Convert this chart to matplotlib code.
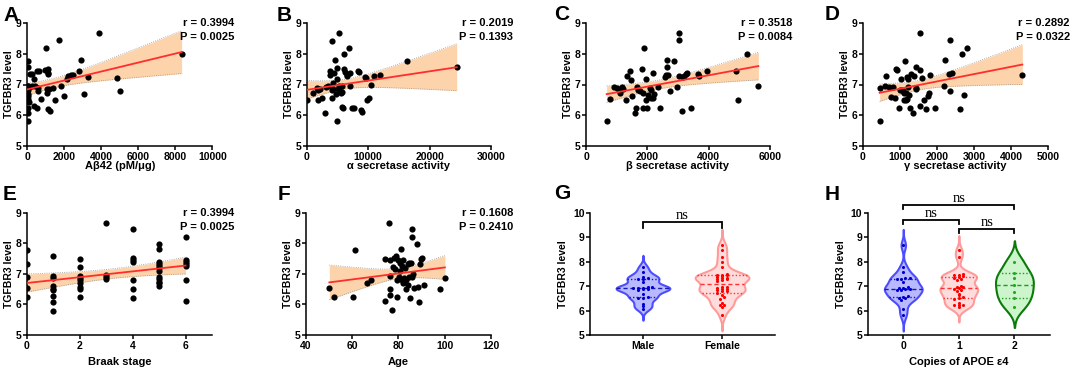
import numpy as np
import matplotlib
matplotlib.use('Agg')
import matplotlib.pyplot as plt
from matplotlib.transforms import offset_copy

plt.rcParams['font.family'] = ['Liberation Sans', 'DejaVu Sans']
plt.rcParams['font.weight'] = 'bold'
plt.rcParams['axes.labelweight'] = 'bold'

# ---------------- data ----------------
A_x = [18, 18, 144, 234, 54, 234, 414, 54, 54, 54, 90, 18, 54, 18, 378, 360, 505, 541, 649, 577,
       595, 739, 1009, 973, 1135, 1099, 1081, 1045, 1099, 1225, 1135, 1189, 1405, 1495, 1730, 1820,
       1982, 2126, 2216, 2360, 2486, 2811, 2901, 3081, 3261, 3856, 4865, 5009, 8342, 30, 40, 110]
A_y = [7.78, 7.58, 7.34, 7.34, 6.95, 6.95, 6.95, 6.82, 6.68, 6.53, 6.44, 6.22, 6.06, 5.81, 7.18, 6.30,
       6.25, 7.44, 7.45, 6.89, 6.80, 6.54, 8.18, 7.47, 7.50, 7.39, 6.84, 6.73, 6.21, 6.13, 7.34, 6.84,
       6.87, 6.49, 8.44, 6.96, 6.62, 7.17, 7.28, 7.30, 7.30, 7.44, 7.80, 6.69, 7.26, 8.66, 7.22, 6.79,
       7.99, 6.62, 6.95, 6.92]

B_x = [0, 1085, 1628, 1899, 1899, 2170, 2550, 2984, 3147, 3527, 3798, 3798, 4069, 4069, 4178, 4232,
       4341, 4504, 4612, 4721, 4883, 4883, 4938, 5046, 5263, 5263, 5426, 5589, 5697, 5806, 5806, 5860,
       6077, 6077, 6240, 6511, 6620, 6891, 7054, 7054, 7434, 7759, 8410, 8519, 8844, 8953, 9495, 9604,
       9766, 10146, 10472, 11015, 11937, 16278, 24417]
B_y = [6.49, 6.71, 6.87, 6.82, 6.51, 6.84, 6.57, 6.08, 6.91, 6.95, 7.31, 7.45, 6.82, 6.55, 8.43, 7.04,
       6.84, 7.39, 7.80, 6.69, 7.53, 5.81, 7.17, 6.84, 8.67, 6.95, 6.80, 6.71, 6.95, 6.77, 6.28, 6.22,
       7.99, 7.50, 7.42, 7.28, 7.31, 8.18, 6.95, 7.37, 6.24, 6.22, 7.44, 7.41, 6.17, 6.11, 7.23, 7.20,
       6.49, 6.55, 6.98, 7.28, 7.31, 7.77, 7.57]

C_x = [674, 783, 913, 1022, 1087, 1109, 1163, 1217, 1304, 1348, 1435, 1457, 1489, 1598, 1630, 1674,
       1707, 1761, 1815, 1848, 1870, 1902, 1946, 1957, 1978, 2033, 2087, 2109, 2120, 2174, 2196, 2217,
       2359, 2413, 2576, 2609, 2652, 2652, 2685, 2739, 2880, 2957, 3033, 3033, 3043, 3152, 3196, 3261,
       3304, 3663, 3696, 3935, 4880, 4967, 5261, 5620, 3120, 3424]
C_y = [5.81, 6.53, 6.93, 6.87, 6.82, 6.71, 6.91, 6.84, 6.51, 7.28, 7.45, 7.15, 6.62, 6.08, 6.25, 6.91,
       6.82, 6.79, 7.51, 6.71, 6.22, 8.18, 6.49, 7.18, 6.22, 6.66, 6.87, 6.57, 6.82, 6.57, 7.39, 6.69,
       6.91, 6.22, 7.26, 7.31, 7.56, 7.80, 7.31, 6.80, 7.77, 6.93, 8.67, 8.46, 7.28, 7.23, 7.28, 7.34,
       7.39, 7.34, 7.28, 7.44, 7.45, 6.49, 7.99, 6.96, 6.13, 6.22]

D_x = [450, 450, 586, 631, 703, 766, 811, 856, 901, 919, 973, 991, 1018, 1063, 1081, 1099, 1108, 1126,
       1153, 1171, 1189, 1189, 1216, 1216, 1243, 1261, 1306, 1351, 1369, 1423, 1441, 1441, 1532, 1550,
       1532, 1595, 1640, 1694, 1757, 1775, 1802, 1937, 2180, 2207, 2324, 2342, 2342, 2405, 2613, 2685,
       2721, 2820, 4306]
D_y = [6.87, 5.81, 6.95, 7.28, 6.93, 6.58, 6.91, 6.55, 7.51, 7.47, 6.22, 6.82, 7.17, 6.82, 6.80, 6.49,
       6.71, 7.78, 6.73, 6.49, 7.23, 6.54, 7.18, 6.91, 6.66, 6.24, 7.34, 6.08, 7.28, 6.87, 7.57, 6.84,
       6.30, 7.47, 8.67, 7.22, 6.51, 6.19, 6.62, 6.71, 7.31, 6.22, 6.96, 7.80, 7.34, 8.46, 6.79, 7.39,
       6.19, 7.99, 6.65, 8.18, 7.31]

E_x = [0] * 5 + [1] * 9 + [2] * 9 + [3] * 4 + [4] * 7 + [5] * 12 + [6] * 7
E_y = [7.78, 7.32, 6.91, 6.55, 6.23,
       7.58, 6.93, 6.85, 6.60, 6.52, 6.47, 6.29, 6.07, 5.80,
       7.47, 7.21, 6.94, 6.87, 6.80, 6.69, 6.58, 6.49, 6.23,
       8.67, 6.96, 6.89, 6.82,
       8.46, 7.51, 7.46, 7.40, 6.80, 6.49, 6.20,
       7.98, 7.80, 7.40, 7.32, 7.26, 7.18, 7.10, 6.91, 6.82, 6.74, 6.69, 6.60,
       8.19, 7.45, 7.40, 7.32, 7.26, 6.80, 6.12]

F_x = [50.2, 52.4, 60.3, 61.3, 66.3, 68.2, 74.2, 74.2, 76.1, 76.4, 76.4, 76.4, 76.4, 77.1, 77.8, 78.3,
       78.6, 79.0, 79.3, 79.3, 80.0, 80.3, 80.7, 80.7, 81.2, 81.4, 81.7, 81.9, 82.2, 82.4, 82.9, 83.2,
       83.3, 84.0, 84.3, 84.6, 84.7, 85.0, 85.5, 85.8, 86.0, 86.0, 86.2, 86.9, 87.9, 88.3, 88.9, 89.4,
       89.8, 90.1, 91.2, 98.0, 100.1]
F_y = [6.55, 6.23, 6.23, 7.78, 6.71, 6.80, 7.47, 6.12, 8.67, 7.45, 6.93, 6.49, 6.31, 5.82, 7.21, 7.51,
       7.15, 7.58, 6.23, 6.80, 7.45, 6.89, 7.10, 7.34, 7.81, 6.80, 7.26, 7.45, 6.71, 6.85, 7.18, 6.49,
       6.80, 6.63, 7.32, 6.91, 7.34, 6.22, 7.34, 6.89, 8.46, 8.19, 6.99, 6.53, 7.98, 6.56, 6.07, 7.32,
       7.47, 7.53, 6.63, 6.49, 6.85]

stats_r = ['0.3994', '0.2019', '0.3518', '0.2892', '0.3994', '0.1608']
stats_p = ['0.0025', '0.1393', '0.0084', '0.0322', '0.0025', '0.2410']

G_labels = ['Male', 'Female']
G_male = [7.78, 7.58, 7.39, 7.34, 7.30, 7.30, 7.18, 6.96, 6.95, 6.93, 6.93, 6.91, 6.89, 6.87, 6.82,
          6.66, 6.54, 6.53, 6.53, 6.28, 6.17, 6.08]
G_female = [8.68, 8.47, 8.20, 7.99, 7.77, 7.50, 7.47, 7.45, 7.44, 7.40, 7.38, 7.34, 7.32, 7.30, 7.28,
            7.26, 7.22, 6.98, 6.95, 6.93, 6.89, 6.87, 6.84, 6.80, 6.79, 6.73, 6.62, 6.55, 6.49, 6.30,
            6.24, 6.21, 6.13, 5.81]

H_labels = ['0', '1', '2']
H_0 = [8.67, 7.78, 7.58, 7.34, 7.32, 7.30, 7.28, 7.18, 6.96, 6.93, 6.91, 6.89, 6.87, 6.85, 6.82, 6.60,
       6.55, 6.53, 6.50, 6.44, 6.08, 5.81]
H_1 = [8.46, 8.19, 7.50, 7.47, 7.45, 7.40, 7.38, 7.34, 7.30, 7.26, 7.00, 6.96, 6.95, 6.93, 6.89, 6.84,
       6.80, 6.69, 6.62, 6.55, 6.53, 6.49, 6.30, 6.24, 6.22, 6.21, 6.13]
H_2 = [8.00, 7.52, 7.33, 7.04, 6.77, 6.50, 6.16]

# ---------------- figure ----------------
W, H = 1072, 370
fig = plt.figure(figsize=(W / 100, H / 100), dpi=100)


def ax_px(left, right, top, bottom):
    return fig.add_axes([left / W, 1 - bottom / H, (right - left) / W, (bottom - top) / H])


def style(ax):
    for s in ['top', 'right']:
        ax.spines[s].set_visible(False)
    for s in ['left', 'bottom']:
        ax.spines[s].set_linewidth(1.1)
    ax.tick_params(direction='out', length=3, width=1.1, labelsize=7.5, pad=1)


TCRIT = 2.006


def scatter_panel(ax, x, y, xlim, xticks, xlabel, r, p, xlab_off):
    x = np.asarray(x, float)
    y = np.asarray(y, float)
    n = len(x)
    slope, inter = np.polyfit(x, y, 1)
    xs = np.linspace(x.min(), x.max(), 200)
    fit = inter + slope * xs
    resid = y - (inter + slope * x)
    s = np.sqrt((resid ** 2).sum() / (n - 2))
    sxx = ((x - x.mean()) ** 2).sum()
    se = s * np.sqrt(1 / n + (xs - x.mean()) ** 2 / sxx)
    lo, hi = fit - TCRIT * se, fit + TCRIT * se
    ax.fill_between(xs, lo, hi, color='#fcd3aa', lw=0, zorder=1)
    ax.plot(xs, lo, color='#999999', lw=0.6, ls=':', zorder=2)
    ax.plot(xs, hi, color='#999999', lw=0.6, ls=':', zorder=2)
    ax.scatter(x, y, s=20, color='black', zorder=3, linewidths=0)
    ax.plot(xs, fit, color='#ff2d2d', lw=1.3, zorder=4)
    ax.set_xlim(*xlim)
    ax.set_ylim(5, 9)
    ax.set_xticks(xticks)
    ax.set_yticks([5, 6, 7, 8, 9])
    style(ax)
    ax.set_xlabel(xlabel, fontsize=8)
    ax.set_ylabel('TGFBR3 level', fontsize=7.5)
    wpx = ax.get_position().width * W
    hpx = ax.get_position().height * H
    ax.yaxis.set_label_coords(-13 / wpx, 0.5)
    ax.xaxis.set_label_coords(0.5, -xlab_off / hpx)
    tr = offset_copy(ax.transAxes, fig=fig, x=22, y=0, units='dots')
    ax.text(1, 1.0, 'r = ' + r, transform=tr, ha='right', va='center', fontsize=8)
    ax.text(1, 1.0 - 14.5 / hpx, 'P = ' + p, transform=tr, ha='right', va='center', fontsize=8)


def violin(ax, pos, vals, edge, fill, ptcol, linecol, spacing, bwf):
    v = np.asarray(vals, float)
    n = len(v)
    bw_scott = v.std(ddof=1) * n ** (-0.2)
    bw = bw_scott * bwf
    grid = np.linspace(v.min() - 2 * bw_scott, v.max() + 2 * bw_scott, 400)
    dens = np.exp(-0.5 * ((grid[:, None] - v[None, :]) / bw) ** 2).sum(1)
    half = dens / dens.max() * 0.34
    ax.fill_betweenx(grid, pos - half, pos + half, facecolor=fill, edgecolor=edge, lw=1.5, zorder=1)
    q1, med, q3 = np.percentile(v, [25, 50, 75], method='weibull')
    for q, ls in [(q1, (0, (1, 1.5))), (med, (0, (3, 2))), (q3, (0, (1, 1.5)))]:
        w = np.interp(q, grid, half)
        ax.plot([pos - w, pos + w], [q, q], color=linecol, lw=1.0, ls=ls, zorder=2)
    # simple swarm by grouping near-equal values
    vs = np.sort(v)
    groups = []
    for val in vs:
        if groups and val - groups[-1][0] < 0.07:
            groups[-1].append(val)
        else:
            groups.append([val])
    xs, ys = [], []
    for g in groups:
        k = len(g)
        for i, val in enumerate(g):
            xs.append(pos + (i - (k - 1) / 2) * spacing)
            ys.append(val)
    ax.scatter(xs, ys, s=5, color=ptcol, zorder=3, linewidths=0)


def bracket(ax, x1, x2, y, leg, ty):
    ax.plot([x1, x1, x2, x2], [y - leg, y, y, y - leg], color='black', lw=1.3, clip_on=False,
            solid_joinstyle='miter')
    ax.text((x1 + x2) / 2, ty, 'ns', ha='center', va='baseline', fontsize=10.5,
            family='Liberation Serif', fontweight='normal', clip_on=False)


# top row
axA = ax_px(27.3, 212.3, 23, 146)
scatter_panel(axA, A_x, A_y, (0, 10000), [0, 2000, 4000, 6000, 8000, 10000], 'Aβ42 (pM/μg)',
              stats_r[0], stats_p[0], 15)
axB = ax_px(306.7, 491, 23, 146)
scatter_panel(axB, B_x, B_y, (0, 30000), [0, 10000, 20000, 30000], 'α secretase activity',
              stats_r[1], stats_p[1], 15)
axC = ax_px(586, 770, 23, 146)
scatter_panel(axC, C_x, C_y, (0, 6000), [0, 2000, 4000, 6000], 'β secretase activity',
              stats_r[2], stats_p[2], 15)
axD = ax_px(863, 1048, 23, 146)
scatter_panel(axD, D_x, D_y, (0, 5000), [0, 1000, 2000, 3000, 4000, 5000], 'γ secretase activity',
              stats_r[3], stats_p[3], 15)

# bottom row
axE = ax_px(26.7, 212, 212.7, 335)
scatter_panel(axE, E_x, E_y, (0, 7), [0, 2, 4, 6], 'Braak stage', stats_r[4], stats_p[4], 22)
axF = ax_px(305.7, 491, 212.7, 335)
scatter_panel(axF, F_x, F_y, (40, 120), [40, 60, 80, 100, 120], 'Age', stats_r[5], stats_p[5], 22)

axG = ax_px(590, 775, 212.7, 335)
violin(axG, 0, G_male, '#4d4dff', '#b9b9ff', '#0000cc', '#1a1aa8', 0.06, 0.6)
violin(axG, 1, G_female, '#ff9a9a', '#ffdcdc', '#ff0000', '#ff3030', 0.06, 0.6)
axG.set_xlim(-0.67, 1.67)
axG.set_ylim(5, 10)
axG.set_yticks([5, 6, 7, 8, 9, 10])
axG.set_xticks([0, 1])
axG.set_xticklabels(G_labels)
style(axG)
axG.set_ylabel('TGFBR3 level', fontsize=7.5)
axG.yaxis.set_label_coords(-22 / 185, 0.5)
bracket(axG, 0, 1, 9.61, 0.25, 9.74)

axH = ax_px(867.7, 1050, 212.7, 335)
violin(axH, 0, H_0, '#4d4dff', '#b9b9ff', '#0000cc', '#1a1aa8', 0.08, 0.6)
violin(axH, 1, H_1, '#ff9a9a', '#ffdcdc', '#ff0000', '#ff3030', 0.08, 0.6)
violin(axH, 2, H_2, '#0a7a0a', '#ccf5cc', '#1faa1f', '#1f9a1f', 0.08, 0.75)
axH.set_xlim(-0.64, 2.64)
axH.set_ylim(5, 10)
axH.set_yticks([5, 6, 7, 8, 9, 10])
axH.set_xticks([0, 1, 2])
axH.set_xticklabels(H_labels)
style(axH)
axH.set_ylabel('TGFBR3 level', fontsize=7.5)
axH.yaxis.set_label_coords(-22 / 182, 0.5)
axH.set_xlabel('Copies of APOE ε4', fontsize=8)
axH.xaxis.set_label_coords(0.5, -22 / 122.3)
bracket(axH, 0, 2, 10.31, 0.16, 10.42)
bracket(axH, 0, 1, 9.70, 0.16, 9.81)
bracket(axH, 1, 2, 9.33, 0.16, 9.44)

# panel letters
for letter, x, yb in [('A', 3, 21), ('B', 277, 21), ('C', 554, 20), ('D', 825, 20),
                      ('E', 3, 200), ('F', 278, 200), ('G', 554, 199), ('H', 825, 200)]:
    fig.text(x / W, 1 - yb / H, letter, fontsize=15, fontweight='bold', va='baseline', ha='left')

fig.savefig('out.png', dpi=100)
